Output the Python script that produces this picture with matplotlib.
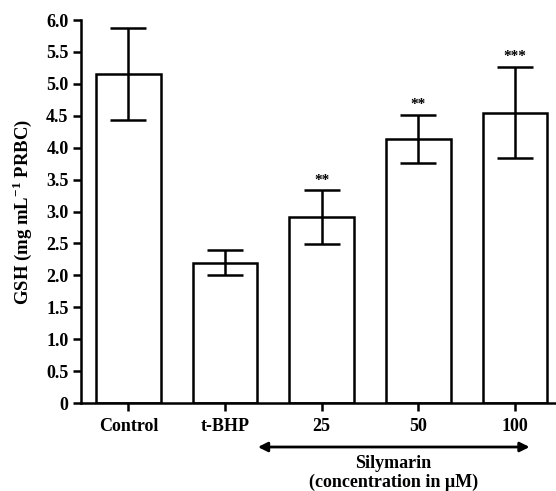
import matplotlib
matplotlib.use("Agg")
import matplotlib.pyplot as plt
import matplotlib.transforms as mtransforms

categories = ["Control", "t-BHP", "25", "50", "100"]
values = [5.15, 2.20, 2.91, 4.14, 4.55]
errors = [0.72, 0.20, 0.42, 0.38, 0.71]
stars = ["", "", "**", "**", "***"]
yticks = [0, 0.5, 1.0, 1.5, 2.0, 2.5, 3.0, 3.5, 4.0, 4.5, 5.0, 5.5, 6.0]
yticklabels = ["0", "0.5", "1.0", "1.5", "2.0", "2.5", "3.0", "3.5", "4.0", "4.5", "5.0", "5.5", "6.0"]

plt.rcParams['font.family'] = ['Liberation Serif', 'DejaVu Serif']
plt.rcParams['mathtext.fontset'] = 'custom'
plt.rcParams['mathtext.rm'] = 'Liberation Serif:bold'
plt.rcParams['mathtext.bf'] = 'Liberation Serif:bold'

fig = plt.figure(figsize=(5.56, 4.91), dpi=100)
ax = fig.add_axes([0.1457, 0.1792, 0.852, 0.780])

x = list(range(len(categories)))
ax.bar(x, values, width=0.67, color="white", edgecolor="black", linewidth=1.8, zorder=2)
ax.errorbar(x, values, yerr=errors, fmt="none", ecolor="black", elinewidth=1.8,
            capsize=13, capthick=1.8, zorder=3)
for xi, v, e, s in zip(x, values, errors, stars):
    if s:
        ax.text(xi, v + e + 0.06, s, ha="center", va="bottom", fontsize=11, fontweight="bold")

ax.set_xlim(-0.49, 4.41)
ax.set_ylim(0, 6.0)
ax.set_yticks(yticks)
ax.set_yticklabels(yticklabels, fontsize=13, fontweight="bold")
ax.set_xticks(x)
ax.set_xticklabels(categories, fontsize=13, fontweight="bold")
ax.tick_params(axis="both", direction="out", length=6, width=1.8, pad=3)
ax.tick_params(axis="x", pad=5)
for side in ("top", "right"):
    ax.spines[side].set_visible(False)
for side in ("left", "bottom"):
    ax.spines[side].set_linewidth(1.8)

ax.set_ylabel("GSH (mg mL$^{-1}$ PRBC)", fontsize=13.5, fontweight="bold")
ax.yaxis.set_label_coords(-0.10, 0.5)

trans = mtransforms.blended_transform_factory(ax.transData, fig.transFigure)
ax.annotate("", xy=(1.34, 0.0896), xytext=(4.15, 0.0896), xycoords=trans, textcoords=trans,
            arrowprops=dict(arrowstyle="<|-|>", color="black", lw=2.0,
                            mutation_scale=14, shrinkA=0, shrinkB=0),
            annotation_clip=False)
ax.text(2.74, 1 - 464 / 491, "Silymarin", transform=trans, ha="center", va="center",
        fontsize=13, fontweight="bold")
ax.text(2.74, 1 - 482 / 491, "(concentration in \u03bcM)", transform=trans, ha="center",
        va="center", fontsize=13, fontweight="bold")

fig.savefig("out.png", dpi=100)
